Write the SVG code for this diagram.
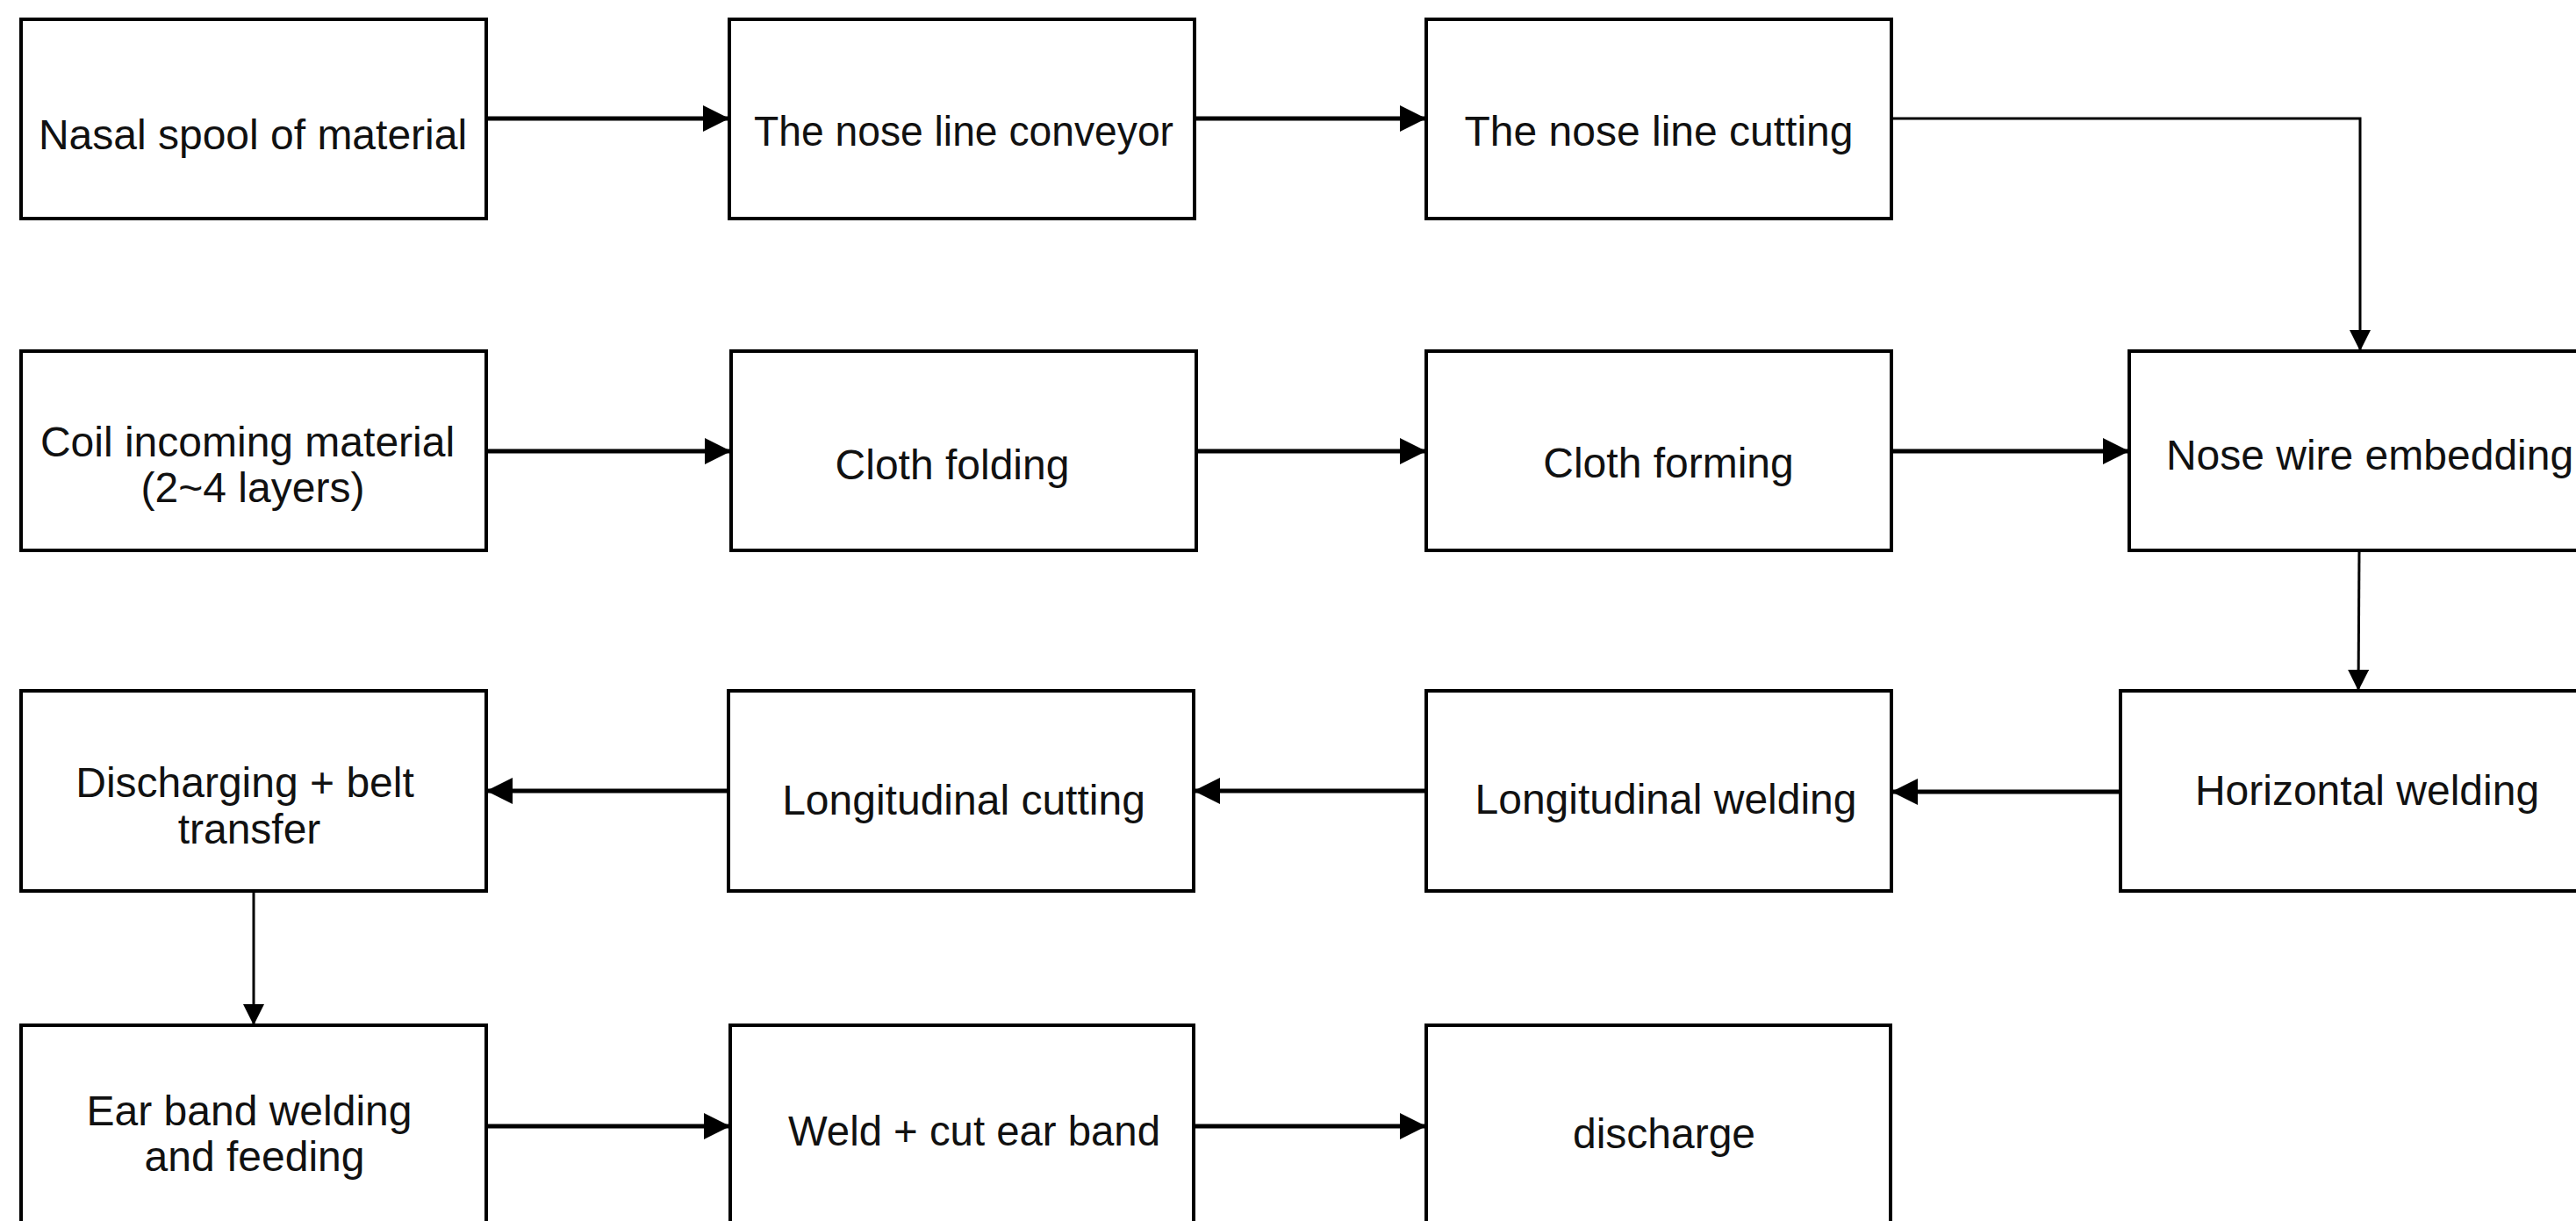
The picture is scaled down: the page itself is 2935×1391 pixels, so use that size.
<svg xmlns="http://www.w3.org/2000/svg" width="2935" height="1391" viewBox="0 0 2935 1391">
<style>
.box{fill:#ffffff;stroke:#000000;stroke-width:4}
.t{font-family:"Liberation Sans",Arial,sans-serif;font-size:48px;fill:#111111;text-anchor:middle}
.c{fill:none;stroke:#000000;stroke-width:5}
.cv{fill:none;stroke:#000000;stroke-width:3}
</style>
<defs>
<marker id="ah" viewBox="0 0 10 10" refX="10" refY="5" markerUnits="userSpaceOnUse" markerWidth="30" markerHeight="30" orient="auto"><path d="M0,0 L10,5 L0,10 Z" fill="#000"/></marker>
<marker id="av" viewBox="0 0 10 10" refX="10" refY="5" markerUnits="userSpaceOnUse" markerWidth="30" markerHeight="24" orient="auto"><path d="M0,0 L10,5 L0,10 Z" fill="#000"/></marker>
</defs>
<rect width="2935" height="1391" fill="#ffffff"/>
<g id="connectors">
<line class="c" x1="554" y1="135" x2="831" y2="135" marker-end="url(#ah)"/>
<line class="c" x1="1361" y1="135" x2="1625" y2="135" marker-end="url(#ah)"/>
<polyline class="cv" points="2155,135 2689,135 2689,400" marker-end="url(#av)"/>
<line class="c" x1="554" y1="514" x2="833" y2="514" marker-end="url(#ah)"/>
<line class="c" x1="1363" y1="514" x2="1625" y2="514" marker-end="url(#ah)"/>
<line class="c" x1="2155" y1="514" x2="2426" y2="514" marker-end="url(#ah)"/>
<line class="cv" x1="2688" y1="627" x2="2687" y2="787" marker-end="url(#av)"/>
<line class="c" x1="2416" y1="902" x2="2155" y2="902" marker-end="url(#ah)"/>
<line class="c" x1="1625" y1="901" x2="1360" y2="901" marker-end="url(#ah)"/>
<line class="c" x1="830" y1="901" x2="554" y2="901" marker-end="url(#ah)"/>
<line class="cv" x1="289" y1="1015" x2="289" y2="1168" marker-end="url(#av)"/>
<line class="c" x1="554" y1="1283" x2="832" y2="1283" marker-end="url(#ah)"/>
<line class="c" x1="1360" y1="1283" x2="1625" y2="1283" marker-end="url(#ah)"/>
</g>
<g id="n1"><rect class="box" x="24" y="22" width="530" height="227"/><text class="t" x="288" y="170">Nasal spool of material</text></g>
<g id="n2"><rect class="box" x="831" y="22" width="530" height="227"/><text class="t" x="1098" y="166" textLength="478" lengthAdjust="spacingAndGlyphs">The nose line conveyor</text></g>
<g id="n3"><rect class="box" x="1625" y="22" width="530" height="227"/><text class="t" x="1890" y="166">The nose line cutting</text></g>
<g id="n4"><rect class="box" x="24" y="400" width="530" height="227"/><text class="t" x="282" y="520">Coil incoming material</text><text class="t" x="288" y="572">(2~4 layers)</text></g>
<g id="n5"><rect class="box" x="833" y="400" width="530" height="227"/><text class="t" x="1085" y="546">Cloth folding</text></g>
<g id="n6"><rect class="box" x="1625" y="400" width="530" height="227"/><text class="t" x="1901" y="544">Cloth forming</text></g>
<g id="n7"><rect class="box" x="2426" y="400" width="560" height="227"/><text class="t" x="2700" y="535">Nose wire embedding</text></g>
<g id="n8"><rect class="box" x="2416" y="787" width="570" height="228"/><text class="t" x="2697" y="917">Horizontal welding</text></g>
<g id="n9"><rect class="box" x="1625" y="787" width="530" height="228"/><text class="t" x="1898" y="927">Longitudinal welding</text></g>
<g id="n10"><rect class="box" x="830" y="787" width="530" height="228"/><text class="t" x="1098" y="928">Longitudinal cutting</text></g>
<g id="n11"><rect class="box" x="24" y="787" width="530" height="228"/><text class="t" x="279" y="908">Discharging + belt</text><text class="t" x="284" y="961">transfer</text></g>
<g id="n12"><rect class="box" x="24" y="1168" width="530" height="240"/><text class="t" x="284" y="1282">Ear band welding</text><text class="t" x="290" y="1334">and feeding</text></g>
<g id="n13"><rect class="box" x="832" y="1168" width="528" height="240"/><text class="t" x="1110" y="1305" textLength="424" lengthAdjust="spacingAndGlyphs">Weld + cut ear band</text></g>
<g id="n14"><rect class="box" x="1625" y="1168" width="529" height="240"/><text class="t" x="1896" y="1308">discharge</text></g>
</svg>
